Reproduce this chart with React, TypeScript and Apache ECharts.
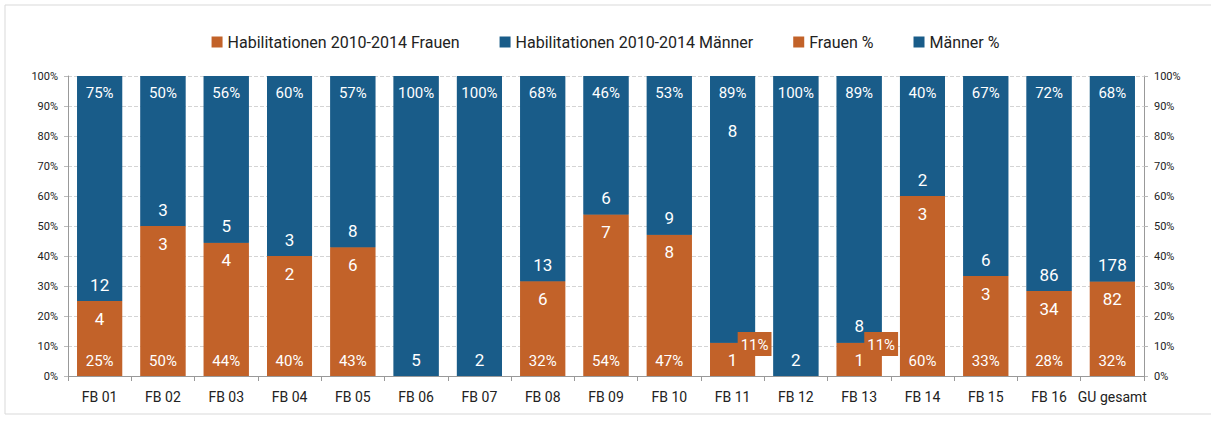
import React, { useEffect, useRef } from "react";
import * as echarts from "echarts";

const categories = ["FB 01", "FB 02", "FB 03", "FB 04", "FB 05", "FB 06", "FB 07", "FB 08", "FB 09", "FB 10", "FB 11", "FB 12", "FB 13", "FB 14", "FB 15", "FB 16", "GU gesamt"];
const frauenCount = [4, 3, 4, 2, 6, 0, 0, 6, 7, 8, 1, 0, 1, 3, 3, 34, 82];
const maennerCount = [12, 3, 5, 3, 8, 5, 2, 13, 6, 9, 8, 2, 8, 2, 6, 86, 178];
const frauenPct = [25, 50, 44.4, 40, 42.9, 0, 0, 31.6, 53.8, 47.1, 11.1, 0, 11.1, 60, 33.3, 28.3, 31.54];
const maennerPct = [75, 50, 55.6, 60, 57.1, 100, 100, 68.4, 46.2, 52.9, 88.9, 100, 88.9, 40, 66.7, 71.7, 68.46];
const yTicks = [0, 10, 20, 30, 40, 50, 60, 70, 80, 90, 100];

const ORANGE = "#C26229";
const BLUE = "#195C89";
const FONT = "Roboto, 'Liberation Sans', sans-serif";

export default function App() {
  const ref = useRef<HTMLDivElement>(null);
  useEffect(() => {
    if (!ref.current) return;
    const chart = echarts.init(ref.current, null, { renderer: "svg" });
    const barLabel = { color: "#fff", fontSize: 15, fontFamily: FONT };

    const fCount = frauenCount.map((c, i) => ({
      value: frauenPct[i],
      label: { show: c > 0 },
    }));
    const mCount = maennerCount.map((c, i) => {
      const item: any = { value: maennerPct[i] };
      if (categories[i] === "FB 11") {
        item.label = { position: "insideTop", distance: 9, offset: [0, 37] };
      }
      return item;
    });
    const fPct = frauenPct.map((p) => {
      const item: any = { value: p, label: { show: p > 0 } };
      if (p > 0 && p < 15) {
        item.label = {
          show: true,
          fontSize: 15,
          backgroundColor: ORANGE,
          padding: [5, 3, 4, 3],
          offset: [22, -12],
        };
      }
      return item;
    });

    chart.setOption({
      animation: false,
      textStyle: { fontFamily: FONT },
      graphic: [
        {
          type: "rect",
          shape: { x: 5, y: 5, width: 1215, height: 409 },
          style: { fill: "none", stroke: "#d9d9d9", lineWidth: 1 },
          silent: true,
        },
      ],
      legend: {
        top: 29,
        left: "center",
        itemWidth: 11,
        itemHeight: 11,
        itemGap: 40,
        icon: "rect",
        textStyle: { fontSize: 16, color: "#222", fontFamily: FONT },
        data: ["Habilitationen 2010-2014 Frauen", "Habilitationen 2010-2014 Männer", "Frauen %", "Männer %"],
      },
      grid: { left: 68, right: 67, top: 76, bottom: 47, containLabel: false },
      xAxis: {
        type: "category",
        data: categories,
        axisLine: { lineStyle: { color: "#999" } },
        axisTick: { show: true, length: 5, lineStyle: { color: "#999" } },
        axisLabel: { color: "#222", fontSize: 14, fontFamily: FONT, margin: 14, interval: 0 },
      },
      yAxis: [
        {
          type: "value",
          min: yTicks[0],
          max: yTicks[yTicks.length - 1],
          interval: 10,
          axisLine: { show: true, lineStyle: { color: "#999" } },
          axisTick: { show: true, length: 4, lineStyle: { color: "#bbb" } },
          axisLabel: { formatter: "{value}%", color: "#222", fontSize: 11, fontFamily: FONT, margin: 10 },
          splitLine: { show: true, lineStyle: { color: "#d4d4d4", type: "dashed" } },
        },
        {
          type: "value",
          min: yTicks[0],
          max: yTicks[yTicks.length - 1],
          interval: 10,
          position: "right",
          axisLine: { show: true, lineStyle: { color: "#999" } },
          axisTick: { show: true, length: 4, lineStyle: { color: "#bbb" } },
          axisLabel: { formatter: "{value}%", color: "#222", fontSize: 11, fontFamily: FONT, margin: 10 },
          splitLine: { show: false },
        },
      ],
      series: [
        {
          name: "Frauen %",
          type: "bar",
          stack: "pct",
          barWidth: 45,
          itemStyle: { color: ORANGE },
          label: {
            ...barLabel,
            show: true,
            position: "insideBottom",
            distance: 8,
            formatter: (p: any) => Math.round(p.value) + "%",
          },
          data: fPct,
        },
        {
          name: "Männer %",
          type: "bar",
          stack: "pct",
          barWidth: 45,
          itemStyle: { color: BLUE },
          label: {
            ...barLabel,
            show: true,
            position: "insideTop",
            distance: 9,
            formatter: (p: any) => Math.round(p.value) + "%",
          },
          data: maennerPct,
        },
        {
          name: "Habilitationen 2010-2014 Frauen",
          type: "bar",
          stack: "count",
          barWidth: 45,
          barGap: "-100%",
          itemStyle: { color: ORANGE },
          label: {
            ...barLabel,
            fontSize: 17,
            show: true,
            position: "insideTop",
            distance: 9,
            formatter: (p: any) => String(frauenCount[p.dataIndex]),
          },
          data: fCount,
        },
        {
          name: "Habilitationen 2010-2014 Männer",
          type: "bar",
          stack: "count",
          barWidth: 45,
          barGap: "-100%",
          itemStyle: { color: BLUE },
          label: {
            ...barLabel,
            fontSize: 17,
            show: true,
            position: "insideBottom",
            distance: 8,
            formatter: (p: any) => String(maennerCount[p.dataIndex]),
          },
          data: mCount,
        },
      ],
    });
    return () => chart.dispose();
  }, []);
  return (
    <div
      ref={ref}
      style={{ position: "fixed", left: 0, top: 0, width: 1211, height: 423, background: "#fff" }}
    />
  );
}
